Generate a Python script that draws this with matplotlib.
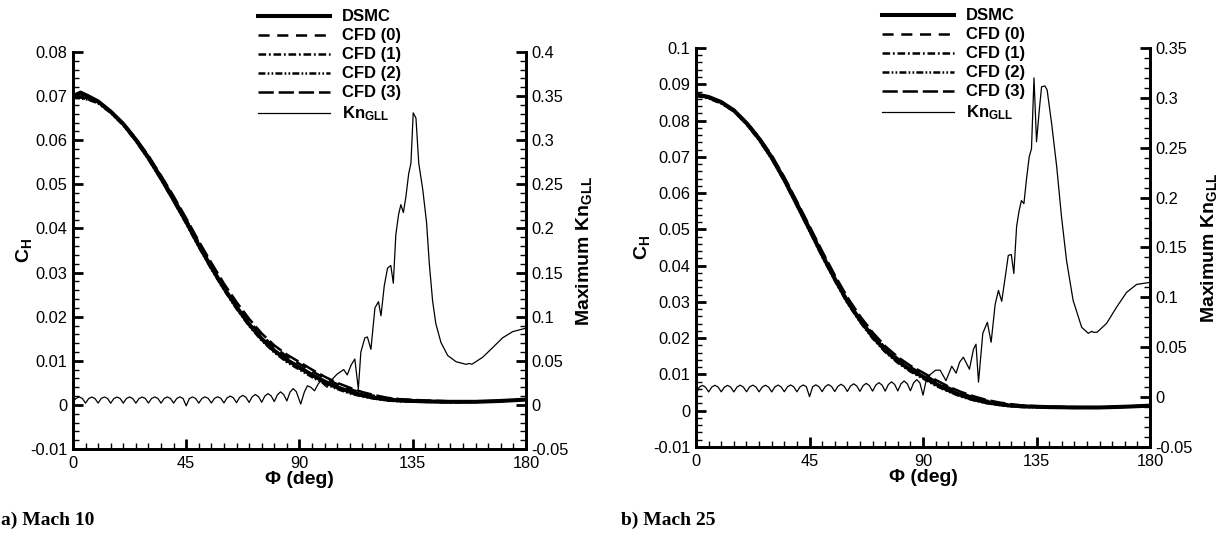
import matplotlib
matplotlib.use("Agg")
import matplotlib.pyplot as plt
from matplotlib.ticker import MultipleLocator, FuncFormatter

plt.rcParams['font.family'] = ['Liberation Sans', 'DejaVu Sans']
plt.rcParams['axes.unicode_minus'] = False
plt.rcParams['mathtext.fontset'] = 'custom'
plt.rcParams['mathtext.rm'] = 'Liberation Sans:bold'
plt.rcParams['mathtext.default'] = 'rm'
plt.rcParams['lines.scale_dashes'] = False

## ---------- Mach 10 data ----------
phi_m10 = [0, 3, 6, 10, 15, 20, 25, 30, 35, 40, 45, 50, 55, 60, 65, 70, 75, 80, 85, 90,
           95, 100, 105, 110, 115, 120, 125, 130, 140, 150, 160, 170, 180]
dsmc_m10 = [0.0700, 0.0708, 0.0700, 0.0688, 0.0665, 0.0637, 0.0601, 0.0560, 0.0514, 0.0465,
            0.0415, 0.0362, 0.0312, 0.0265, 0.0222, 0.0183, 0.0150, 0.0123, 0.0102, 0.0085,
            0.0068, 0.0053, 0.0040, 0.0030, 0.0022, 0.0016, 0.0012, 0.0010, 0.0008, 0.0007,
            0.0007, 0.0009, 0.0012]
cfd0_m10 = [0.0698, 0.0697, 0.0694, 0.0686, 0.0664, 0.0637, 0.0603, 0.0563, 0.0518, 0.0470,
            0.0420, 0.0368, 0.0318, 0.0271, 0.0229, 0.0190, 0.0158, 0.0131, 0.0110, 0.0093,
            0.0076, 0.0061, 0.0047, 0.0036, 0.0027, 0.0020, 0.0015, 0.0012, 0.0009, 0.0008,
            0.0007, 0.0009, 0.0012]
cfd1_m10 = [0.0697, 0.0696, 0.0693, 0.0685, 0.0663, 0.0635, 0.0600, 0.0559, 0.0513, 0.0464,
            0.0414, 0.0361, 0.0311, 0.0264, 0.0221, 0.0182, 0.0149, 0.0122, 0.0100, 0.0083,
            0.0066, 0.0051, 0.0038, 0.0028, 0.0020, 0.0015, 0.0011, 0.0009, 0.0007, 0.0006,
            0.0007, 0.0009, 0.0012]
cfd2_m10 = [0.0696, 0.0695, 0.0692, 0.0684, 0.0662, 0.0634, 0.0598, 0.0557, 0.0511, 0.0462,
            0.0411, 0.0358, 0.0308, 0.0261, 0.0218, 0.0179, 0.0146, 0.0119, 0.0097, 0.0080,
            0.0063, 0.0048, 0.0036, 0.0026, 0.0019, 0.0014, 0.0010, 0.0008, 0.0007, 0.0006,
            0.0007, 0.0009, 0.0012]
cfd3_m10 = [0.0699, 0.0698, 0.0695, 0.0687, 0.0665, 0.0638, 0.0604, 0.0565, 0.0520, 0.0473,
            0.0423, 0.0371, 0.0322, 0.0275, 0.0233, 0.0195, 0.0162, 0.0135, 0.0114, 0.0097,
            0.0080, 0.0064, 0.0050, 0.0039, 0.0029, 0.0022, 0.0016, 0.0013, 0.0010, 0.0008,
            0.0008, 0.0009, 0.0012]

kn_phi_m10 = [0, 1.25, 2.5, 3.75, 5, 6.25, 7.5, 8.75, 10, 11.25, 12.5, 13.75, 15, 16.25, 17.5, 18.75,
              20, 21.25, 22.5, 23.75, 25, 26.25, 27.5, 28.75, 30, 31.25, 32.5, 33.75, 35, 36.25, 37.5, 38.75,
              40, 41.25, 42.5, 43.75, 45, 46.25, 47.5, 48.75, 50, 51.25, 52.5, 53.75, 55, 56.25, 57.5, 58.75,
              60, 61.25, 62.5, 63.75, 65, 66.25, 67.5, 68.75, 70, 71.25, 72.5, 73.75, 75, 76.25, 77.5, 78.75,
              80, 81.25, 82.5, 83.75, 85, 86.25, 87.5, 88.75, 90.5,
              92, 93.2, 94.5, 96, 97.5, 98.5, 100, 101, 103, 105, 107.6, 109, 110.5, 112, 113.4, 114.4,
              116, 117, 118.4, 120, 121.4, 122.4, 123.7, 125, 126.3, 127.3, 128.3, 129.4, 130.3, 131.3,
              132.3, 133.4, 134.3, 135.2, 136.3, 137.4, 139, 140.5, 141.6, 142.9, 144.2, 146.2, 148.9,
              152.2, 156.2, 157.5, 158.5, 162.8, 166.8, 170.7, 174.7, 180]
kn_m10 = [0.0040, 0.0073, 0.0090, 0.0073, 0.0020, 0.0072, 0.0089, 0.0072, 0.0021, 0.0073, 0.0090, 0.0073,
          0.0019, 0.0072, 0.0089, 0.0073, 0.0020, 0.0073, 0.0090, 0.0072, 0.0020, 0.0072, 0.0089, 0.0073,
          0.0021, 0.0073, 0.0090, 0.0073, 0.0020, 0.0072, 0.0090, 0.0073, 0.0020, 0.0073, 0.0091, 0.0073,
          -0.0010, 0.0072, 0.0090, 0.0073, 0.0020, 0.0073, 0.0091, 0.0074, 0.0021, 0.0074, 0.0092, 0.0075,
          0.0022, 0.0080, 0.0100, 0.0080, 0.0025, 0.0086, 0.0108, 0.0086, 0.0028, 0.0093, 0.0118, 0.0093,
          0.0030, 0.0100, 0.0128, 0.0102, 0.0038, 0.0115, 0.0148, 0.0117, 0.0045, 0.0145, 0.0185, 0.0150,
          0.0010,
          0.0150, 0.0217, 0.0200, 0.0160, 0.0240, 0.0270, 0.0220, 0.0200, 0.0290, 0.0350, 0.0400, 0.0340,
          0.0450, 0.0520, 0.0180, 0.0600,
          0.0760, 0.0770, 0.0630, 0.1100, 0.1170, 0.1010, 0.1350, 0.1550, 0.1580, 0.1380, 0.1930, 0.2160,
          0.2270, 0.2180, 0.2360, 0.2620, 0.2740, 0.3310, 0.3250, 0.2740, 0.2440, 0.2070, 0.1600, 0.1180,
          0.0920, 0.0710, 0.0560, 0.0490, 0.0460, 0.0470, 0.0460, 0.0540, 0.0650, 0.0760, 0.0830, 0.0870]

## ---------- Mach 25 data ----------
phi_m25 = [0, 5, 10, 15, 20, 25, 30, 35, 40, 45, 50, 55, 60, 65, 70, 75, 80, 85, 90,
           95, 100, 105, 110, 115, 120, 125, 130, 140, 150, 160, 170, 180]
dsmc_m25 = [0.0872, 0.0865, 0.0851, 0.0828, 0.0793, 0.0750, 0.0698, 0.0637, 0.0569, 0.0500,
            0.0430, 0.0364, 0.0302, 0.0250, 0.0205, 0.0167, 0.0137, 0.0113, 0.0094, 0.0074,
            0.0057, 0.0043, 0.0032, 0.0024, 0.0018, 0.0014, 0.0012, 0.0010, 0.0009, 0.0009,
            0.0011, 0.0014]
cfd0_m25 = [0.0870, 0.0864, 0.0850, 0.0828, 0.0794, 0.0752, 0.0701, 0.0641, 0.0574, 0.0505,
            0.0436, 0.0370, 0.0309, 0.0257, 0.0212, 0.0174, 0.0144, 0.0120, 0.0101, 0.0081,
            0.0064, 0.0049, 0.0037, 0.0028, 0.0021, 0.0016, 0.0013, 0.0011, 0.0009, 0.0009,
            0.0011, 0.0014]
cfd1_m25 = [0.0869, 0.0862, 0.0848, 0.0826, 0.0791, 0.0748, 0.0696, 0.0635, 0.0567, 0.0498,
            0.0428, 0.0362, 0.0300, 0.0248, 0.0203, 0.0165, 0.0135, 0.0111, 0.0092, 0.0072,
            0.0055, 0.0041, 0.0030, 0.0022, 0.0017, 0.0013, 0.0011, 0.0009, 0.0008, 0.0009,
            0.0011, 0.0014]
cfd2_m25 = [0.0868, 0.0861, 0.0847, 0.0825, 0.0790, 0.0746, 0.0694, 0.0633, 0.0565, 0.0495,
            0.0425, 0.0359, 0.0297, 0.0245, 0.0200, 0.0162, 0.0132, 0.0108, 0.0089, 0.0069,
            0.0053, 0.0039, 0.0029, 0.0021, 0.0016, 0.0012, 0.0010, 0.0009, 0.0008, 0.0008,
            0.0011, 0.0014]
cfd3_m25 = [0.0871, 0.0865, 0.0851, 0.0829, 0.0796, 0.0754, 0.0704, 0.0644, 0.0577, 0.0509,
            0.0440, 0.0374, 0.0313, 0.0261, 0.0216, 0.0178, 0.0148, 0.0124, 0.0105, 0.0085,
            0.0067, 0.0052, 0.0040, 0.0030, 0.0023, 0.0018, 0.0014, 0.0011, 0.0010, 0.0009,
            0.0011, 0.0014]

kn_phi_m25 = [0, 1.25, 2.5, 3.75, 5, 6.25, 7.5, 8.75, 10, 11.25, 12.5, 13.75, 15, 16.25, 17.5, 18.75,
              20, 21.25, 22.5, 23.75, 25, 26.25, 27.5, 28.75, 30, 31.25, 32.5, 33.75, 35, 36.25, 37.5, 38.75,
              40, 41.25, 42.5, 43.75, 45, 46.25, 47.5, 48.75, 50, 51.25, 52.5, 53.75, 55, 56.25, 57.5, 58.75,
              60, 61.25, 62.5, 63.75, 65, 66.25, 67.5, 68.75, 70, 71.25, 72.5, 73.75, 75, 76.25, 77.5, 78.75,
              80, 81.25, 82.5, 83.75, 85, 86.25, 87.5, 88.75, 90,
              91.5, 93.5, 95, 96.8, 99.1, 101.4, 103.1, 104.5, 106, 108.4, 110, 111, 112, 113.7, 115.5,
              117, 118.6, 119.9, 121.2, 122.4, 123.8, 125, 126, 127.1, 128.1, 129, 130, 131, 132.1, 133,
              134, 135, 136.1, 137, 138.3, 139.2, 141, 143, 144.9, 146.9, 149.5, 152.9, 155.5, 157, 157.5,
              159, 162.8, 166.7, 170.7, 174.7, 180]
kn_m25 = [0.0020, 0.0100, 0.0118, 0.0100, 0.0052, 0.0101, 0.0119, 0.0101, 0.0053, 0.0100, 0.0118, 0.0100,
          0.0052, 0.0101, 0.0120, 0.0101, 0.0054, 0.0102, 0.0120, 0.0102, 0.0053, 0.0101, 0.0119, 0.0101,
          0.0052, 0.0102, 0.0121, 0.0102, 0.0054, 0.0103, 0.0122, 0.0103, 0.0053, 0.0103, 0.0122, 0.0104,
          0.0005, 0.0104, 0.0123, 0.0104, 0.0055, 0.0106, 0.0126, 0.0106, 0.0056, 0.0108, 0.0129, 0.0108,
          0.0057, 0.0111, 0.0133, 0.0111, 0.0058, 0.0115, 0.0138, 0.0115, 0.0060, 0.0120, 0.0145, 0.0121,
          0.0060, 0.0126, 0.0153, 0.0127, 0.0062, 0.0133, 0.0162, 0.0134, 0.0064, 0.0142, 0.0175, 0.0143,
          0.0020,
          0.0200, 0.0240, 0.0270, 0.0270, 0.0165, 0.0310, 0.0240, 0.0350, 0.0400, 0.0280, 0.0480, 0.0530,
          0.0150, 0.0640, 0.0750,
          0.0550, 0.0930, 0.1070, 0.0960, 0.1170, 0.1420, 0.1430, 0.1240, 0.1710, 0.1870, 0.1970, 0.1940,
          0.2180, 0.2410, 0.2490, 0.3200, 0.2560, 0.2880, 0.3110, 0.3120, 0.3080, 0.2740, 0.2310, 0.1810,
          0.1370, 0.0970, 0.0700, 0.0640, 0.0660, 0.0650, 0.0650, 0.0740, 0.0900, 0.1050, 0.1130, 0.1150]

labels = ['DSMC', 'CFD (0)', 'CFD (1)', 'CFD (2)', 'CFD (3)', 'Kn$_\\mathrm{GLL}$']
dash0 = (0, (8, 5.5))
dash1 = (0, (5.5, 2, 1.3, 2))
dash2 = (0, (5, 1.6, 1.2, 1.6, 1.2, 1.6))
dash3 = (0, (11, 3.5))

fmt = FuncFormatter(lambda v, p: '%g' % round(v, 4))

fig = plt.figure(figsize=(12.28, 5.44), dpi=100)


def make_panel(rect, phi, dsmc, cfd0, cfd1, cfd2, cfd3, knphi, kn, ch_lim, kn_lim, leg_xy, caption, cap_x, ylpad):
    ax = fig.add_axes(rect)
    ax2 = ax.twinx()
    h = []
    h += ax.plot(phi, dsmc, color='black', lw=2.9, label=labels[0])
    h += ax.plot(phi, cfd0, color='black', lw=1.8, linestyle=dash0, label=labels[1])
    h += ax.plot(phi, cfd1, color='black', lw=1.8, linestyle=dash1, label=labels[2])
    h += ax.plot(phi, cfd2, color='black', lw=1.8, linestyle=dash2, label=labels[3])
    h += ax.plot(phi, cfd3, color='black', lw=1.8, linestyle=dash3, label=labels[4])
    h += ax2.plot(knphi, kn, color='black', lw=0.9, label=labels[5])
    h[0].set_linewidth(2.9)

    ax.set_xlim(0, 180)
    ax.set_ylim(*ch_lim)
    ax2.set_ylim(*kn_lim)
    ax.xaxis.set_major_locator(MultipleLocator(45))
    ax.xaxis.set_minor_locator(MultipleLocator(5))
    ax.yaxis.set_major_locator(MultipleLocator(0.01))
    ax.yaxis.set_minor_locator(MultipleLocator(0.002))
    ax2.yaxis.set_major_locator(MultipleLocator(0.05))
    ax2.yaxis.set_minor_locator(MultipleLocator(0.01))
    ax.xaxis.set_major_formatter(fmt)
    ax.yaxis.set_major_formatter(fmt)
    ax2.yaxis.set_major_formatter(fmt)

    for a in (ax, ax2):
        a.spines['top'].set_visible(False)
        for s in ('left', 'right', 'bottom'):
            a.spines[s].set_linewidth(2)
        a.tick_params(which='major', direction='in', length=7, width=2, labelsize=11.8)
        a.tick_params(which='minor', direction='in', length=4, width=1)
    ax.tick_params(axis='x', pad=5)
    ax.tick_params(axis='y', pad=4)
    ax2.tick_params(axis='y', pad=4)

    ax.set_xlabel('Φ (deg)', fontsize=14, fontweight='bold', labelpad=0)
    ax.set_ylabel('C$_\\mathrm{H}$', fontsize=14, fontweight='bold', labelpad=ylpad)
    ax2.set_ylabel('Maximum Kn$_\\mathrm{GLL}$', fontsize=14, fontweight='bold', labelpad=4)

    fig.legend(handles=h, loc='upper left', bbox_to_anchor=leg_xy, frameon=False,
               handlelength=4.3, handletextpad=0.72, labelspacing=0.24, borderpad=0,
               prop={'weight': 'bold', 'size': 12})
    fig.text(cap_x, 0.035, caption, family='Liberation Serif', fontweight='bold', fontsize=14)


make_panel([0.0594, 0.1746, 0.3689, 0.7298], phi_m10, dsmc_m10, cfd0_m10, cfd1_m10, cfd2_m10, cfd3_m10,
           kn_phi_m10, kn_m10, (-0.01, 0.08), (-0.05, 0.4), (0.2036, 0.998), 'a) Mach 10', 0.001, -3)
make_panel([0.5668, 0.1783, 0.3697, 0.7335], phi_m25, dsmc_m25, cfd0_m25, cfd1_m25, cfd2_m25, cfd3_m25,
           kn_phi_m25, kn_m25, (-0.01, 0.1), (-0.05, 0.35), (0.7117, 1.0), 'b) Mach 25', 0.506, 1)

fig.savefig('out.png', dpi=100)
